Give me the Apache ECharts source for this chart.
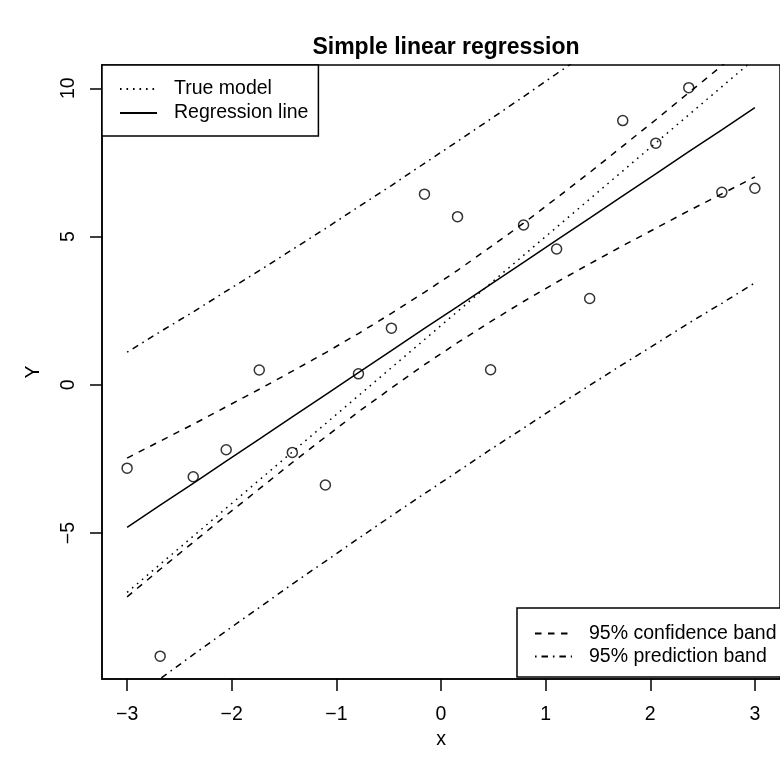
<!DOCTYPE html>
<html>
<head>
<meta charset="utf-8">
<script src="https://cdn.jsdelivr.net/npm/echarts@6/dist/echarts.min.js"></script>
<style>
  html, body { margin: 0; padding: 0; background: #fff; }
  #chart { width: 780px; height: 773px; }
</style>
</head>
<body>
<div id="chart"></div>
<script>
// ---- data ----
const xs = [-3, -2.684, -2.368, -2.053, -1.737, -1.421, -1.105, -0.789, -0.474, -0.158,
            0.158, 0.474, 0.789, 1.105, 1.421, 1.737, 2.053, 2.368, 2.684, 3];
const ys = [-2.81, -9.15, -3.10, -2.19, 0.50, -2.28, -3.38, 0.37, 1.91, 6.43,
            5.67, 0.51, 5.39, 4.58, 2.91, 8.91, 8.15, 10.02, 6.49, 6.63];
const fitLine = [-4.81, -4.06, -3.32, -2.57, -1.83, -1.08, -0.34, 0.41, 1.15, 1.90,
                 2.64, 3.39, 4.13, 4.88, 5.62, 6.37, 7.11, 7.86, 8.60, 9.35];
const confUpper = [-2.47, -1.90, -1.33, -0.74, -0.15, 0.46, 1.08, 1.73, 2.41, 3.12,
                   3.86, 4.65, 5.45, 6.30, 7.16, 8.05, 8.94, 9.85, 10.76, 11.69];
const confLower = [-7.15, -6.22, -5.31, -4.40, -3.51, -2.62, -1.76, -0.91, -0.11, 0.68,
                   1.42, 2.13, 2.81, 3.46, 4.08, 4.69, 5.28, 5.87, 6.44, 7.01];
const predUpper = [1.10, 1.79, 2.46, 3.16, 3.85, 4.56, 5.27, 6.00, 6.72, 7.47,
                   8.21, 8.96, 9.72, 10.49, 11.26, 12.05, 12.84, 13.64, 14.45, 15.26];
const predLower = [-10.72, -9.91, -9.10, -8.30, -7.51, -6.72, -5.95, -5.18, -4.42, -3.67,
                   -2.93, -2.18, -1.46, -0.73, -0.02, 0.69, 1.38, 2.08, 2.75, 3.44];
const trueX = [-3, 3];
const trueY = [-7, 11];
const xTicks = [-3, -2, -1, 0, 1, 2, 3];
const yTicks = [-5, 0, 5, 10];

const pairs = (a, b) => a.map((v, i) => [v, b[i]]);
const FONT = 'Liberation Sans, Arial, Helvetica, sans-serif';
const LW = 1.5;
const fmt = v => String(v).replace('-', '\u2212');

const legendCommon = {
  orient: 'vertical', itemGap: 0, itemWidth: 37, itemHeight: 14,
  borderColor: '#000', borderWidth: LW, backgroundColor: '#fff',
  itemStyle: { opacity: 0 },
  selectedMode: false
};

const chart = echarts.init(document.getElementById('chart'), null, { renderer: 'canvas' });
chart.setOption({
  animation: false,
  backgroundColor: '#ffffff',
  title: {
    text: 'Simple linear regression',
    left: 446, top: 34, padding: 0,
    textAlign: 'center',
    textStyle: { fontFamily: FONT, fontSize: 23, fontWeight: 'bold', color: '#000', lineHeight: 28 }
  },
  grid: {
    left: 102, top: 65, right: -10, bottom: 94,
    show: true, borderColor: '#000', borderWidth: LW, backgroundColor: 'transparent'
  },
  xAxis: {
    type: 'value', min: -3.24, max: 3.24,
    name: 'x', nameLocation: 'middle', nameGap: 50,
    nameTextStyle: { fontFamily: FONT, fontSize: 19.5, color: '#000' },
    axisLine: { show: true, onZero: false, lineStyle: { color: '#000', width: LW } },
    axisTick: { show: true, length: 12, inside: false, customValues: xTicks, lineStyle: { color: '#000', width: LW } },
    axisLabel: { customValues: xTicks, margin: 26, formatter: fmt,
      fontFamily: FONT, fontSize: 19.5, color: '#000', lineHeight: 20 },
    splitLine: { show: false }
  },
  yAxis: {
    type: 'value', min: -9.92, max: 10.785,
    name: 'Y', nameLocation: 'middle', nameGap: 58, nameRotate: 90,
    nameTextStyle: { fontFamily: FONT, fontSize: 19.5, color: '#000' },
    axisLine: { show: true, onZero: false, lineStyle: { color: '#000', width: LW } },
    axisTick: { show: true, length: 12, inside: false, customValues: yTicks, lineStyle: { color: '#000', width: LW } },
    axisLabel: { customValues: yTicks, margin: 23, rotate: 90, formatter: fmt,
      fontFamily: FONT, fontSize: 19.5, color: '#000', lineHeight: 20 },
    splitLine: { show: false }
  },
  legend: [
    Object.assign({}, legendCommon, {
      data: ['True model', 'Regression line'],
      left: 102, top: 65,
      padding: [12, 10, 11, 17],
      textStyle: { fontFamily: FONT, fontSize: 19.5, color: '#000', lineHeight: 24, padding: [0, 0, 0, 12] }
    }),
    Object.assign({}, legendCommon, {
      data: ['95% confidence band', '95% prediction band'],
      left: 517, top: 608,
      padding: [14, 17, 9, 17],
      textStyle: { fontFamily: FONT, fontSize: 19.5, color: '#000', lineHeight: 23, padding: [0, 0, 0, 12] }
    })
  ],
  series: [
    {
      name: 'points', type: 'scatter', data: pairs(xs, ys),
      symbol: 'circle', symbolSize: 10,
      itemStyle: { color: 'rgba(0,0,0,0)', borderColor: '#000', borderWidth: LW },
      z: 3
    },
    {
      name: 'True model', type: 'line', data: pairs(trueX, trueY),
      symbol: 'none', clip: true, itemStyle: { color: '#000' },
      lineStyle: { color: '#000', width: LW, type: [1.6, 4.9] }
    },
    {
      name: 'Regression line', type: 'line', data: pairs(xs, fitLine),
      symbol: 'none', clip: true, itemStyle: { color: '#000' },
      lineStyle: { color: '#000', width: LW, type: 'solid' }
    },
    {
      name: '95% confidence band', type: 'line', data: pairs(xs, confUpper),
      symbol: 'none', clip: true, itemStyle: { color: '#000' },
      lineStyle: { color: '#000', width: LW, type: [6.5, 6.5] }
    },
    {
      name: '95% confidence band', type: 'line', data: pairs(xs, confLower),
      symbol: 'none', clip: true, itemStyle: { color: '#000' },
      lineStyle: { color: '#000', width: LW, type: [6.5, 6.5] }
    },
    {
      name: '95% prediction band', type: 'line', data: pairs(xs, predUpper),
      symbol: 'none', clip: true, itemStyle: { color: '#000' },
      lineStyle: { color: '#000', width: LW, type: [1.6, 4.9, 6.5, 4.9] }
    },
    {
      name: '95% prediction band', type: 'line', data: pairs(xs, predLower),
      symbol: 'none', clip: true, itemStyle: { color: '#000' },
      lineStyle: { color: '#000', width: LW, type: [1.6, 4.9, 6.5, 4.9] }
    }
  ]
});
</script>
</body>
</html>
